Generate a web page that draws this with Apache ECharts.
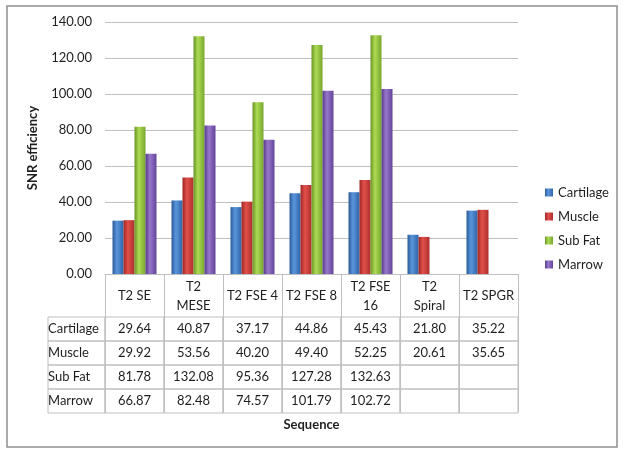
<!DOCTYPE html>
<html>
<head>
<meta charset="utf-8">
<script src="https://cdn.jsdelivr.net/npm/echarts@6/dist/echarts.min.js"></script>
<style>
html,body{margin:0;padding:0;background:#fff;}
#chart{width:624px;height:455px;}
</style>
</head>
<body>
<div id="chart"></div>
<script>
// ---- data ----
const categories = ['T2 SE', 'T2 MESE', 'T2 FSE 4', 'T2 FSE 8', 'T2 FSE 16', 'T2 Spiral', 'T2 SPGR'];
const headerLines = [['T2 SE'], ['T2', 'MESE'], ['T2 FSE 4'], ['T2 FSE 8'], ['T2 FSE', '16'], ['T2', 'Spiral'], ['T2 SPGR']];
const seriesNames = ['Cartilage', 'Muscle', 'Sub Fat', 'Marrow'];
const cartilage = [29.64, 40.87, 37.17, 44.86, 45.43, 21.80, 35.22];
const muscle    = [29.92, 53.56, 40.20, 49.40, 52.25, 20.61, 35.65];
const subFat    = [81.78, 132.08, 95.36, 127.28, 132.63, null, null];
const marrow    = [66.87, 82.48, 74.57, 101.79, 102.72, null, null];
const yTicks = { min: 0, max: 140, interval: 20 };

const values = [cartilage, muscle, subFat, marrow];
const palette = [
  ['#2a5a98', '#5a96dc', '#2f64a8'],
  ['#9c2623', '#e2504b', '#ad2f2b'],
  ['#6a9424', '#addb55', '#78a62c'],
  ['#553a86', '#9877cc', '#62449a']
];
function grad(c) {
  return new echarts.graphic.LinearGradient(0, 0, 1, 0, [
    { offset: 0, color: c[0] },
    { offset: 0.4, color: c[1] },
    { offset: 1, color: c[2] }
  ]);
}

const FONT = 'Lato';
const TXT = '#1f1f1f';
const LINE = '#bfbfbf';
const CELL_W = 59;

const chart = echarts.init(document.getElementById('chart'), null, { renderer: 'canvas' });

const option = {
  animation: false,
  backgroundColor: '#fff',
  textStyle: { fontFamily: FONT },
  title: {
    left: 48, top: 317, padding: 0,
    text: seriesNames.map(n => '{r|' + n + '}').join('\n'),
    textStyle: {
      fontWeight: 'normal',
      rich: {
        r: { width: 57, height: 24, lineHeight: 24, align: 'left', fontFamily: FONT, fontSize: 13, fontWeight: 'normal', color: TXT,
             borderColor: LINE, borderWidth: 1 }
      }
    }
  },
  legend: {
    orient: 'vertical', left: 540, top: 181,
    itemWidth: 8, itemHeight: 8, itemGap: 11, icon: 'rect',
    textStyle: { fontFamily: FONT, fontSize: 13, color: TXT },
    data: seriesNames
  },
  grid: { left: 105, right: 106, top: 22, bottom: 181, containLabel: false },
  xAxis: {
    type: 'category',
    data: categories,
    name: 'Sequence',
    nameLocation: 'middle',
    nameGap: 143,
    nameTextStyle: { fontFamily: FONT, fontSize: 13, fontWeight: 'bold', color: TXT },
    axisLine: { show: true, lineStyle: { color: LINE, width: 1 } },
    axisTick: { show: true, length: 138, alignWithLabel: false, lineStyle: { color: LINE, width: 1 } },
    axisLabel: {
      interval: 0, margin: 0,
      formatter: function (v, idx) {
        const h = headerLines[idx];
        let s = h.length === 1 ? '{hs|' + h[0] + '}' : '{h1|' + h[0] + '}\n{h2|' + h[1] + '}';
        values.forEach(arr => {
          const val = arr[idx];
          s += '\n{c|' + (val == null ? ' ' : val.toFixed(2)) + '}';
        });
        return s;
      },
      rich: {
        hs: { lineHeight: 43, height: 43, width: CELL_W, align: 'center', fontFamily: FONT, fontSize: 13, color: TXT },
        h1: { lineHeight: 25, width: CELL_W, align: 'center', fontFamily: FONT, fontSize: 13, color: TXT },
        h2: { lineHeight: 18, width: CELL_W, align: 'center', verticalAlign: 'top', fontFamily: FONT, fontSize: 13, color: TXT },
        c: { width: CELL_W, height: 24, lineHeight: 24, align: 'center', fontFamily: FONT, fontSize: 13, color: TXT,
             borderColor: LINE, borderWidth: 1 }
      }
    }
  },
  yAxis: {
    type: 'value',
    min: yTicks.min, max: yTicks.max, interval: yTicks.interval,
    name: 'SNR efficiency',
    nameLocation: 'middle',
    nameRotate: 90,
    nameGap: 66,
    nameTextStyle: { fontFamily: FONT, fontSize: 13, fontWeight: 'bold', color: TXT },
    axisLine: { show: false },
    axisTick: { show: false },
    axisLabel: { margin: 13, fontFamily: FONT, fontSize: 13, color: TXT, formatter: v => v.toFixed(2) },
    splitLine: { show: true, lineStyle: { color: LINE, width: 1 } }
  },
  series: seriesNames.map((n, i) => ({
    name: n,
    type: 'bar',
    data: values[i],
    barWidth: 11,
    barGap: '0%',
    itemStyle: { color: grad(palette[i]) }
  })),
  graphic: [{
    type: 'rect',
    shape: { x: 7, y: 6, width: 610, height: 441 },
    style: { fill: 'none', stroke: '#8f8f8f', lineWidth: 1.5 },
    silent: true
  }]
};
chart.setOption(option);
</script>
</body>
</html>
